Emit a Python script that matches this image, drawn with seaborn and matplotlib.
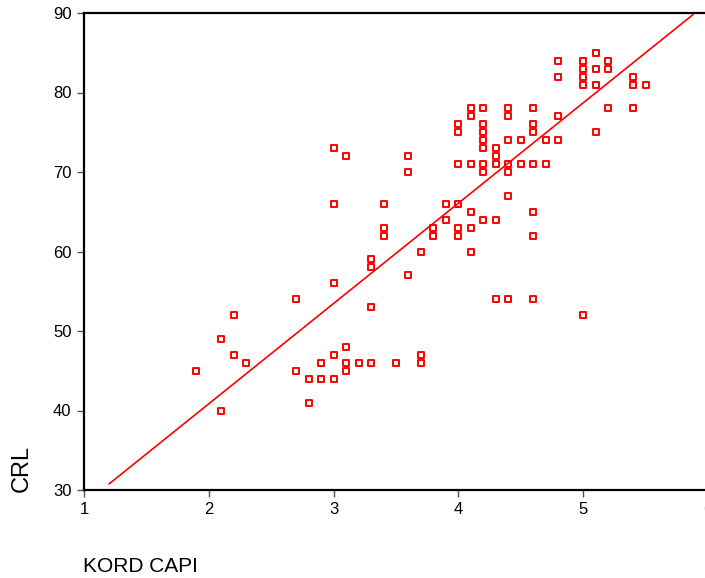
import numpy as np
import pandas as pd
import matplotlib
matplotlib.use("Agg")
import matplotlib.pyplot as plt
import seaborn as sns

# Valores (KORD CAPI x CRL)
kord_capi = [1.9, 2.1, 2.1, 2.2, 2.2, 2.3, 2.7, 2.7, 2.8, 2.8, 2.9, 2.9,
             3.0, 3.0, 3.0, 3.0, 3.0, 3.1, 3.1, 3.1, 3.1, 3.2,
             3.3, 3.3, 3.3, 3.3, 3.4, 3.4, 3.4, 3.5, 3.6, 3.6, 3.6,
             3.7, 3.7, 3.7, 3.8, 3.8, 3.9, 3.9,
             4.0, 4.0, 4.0, 4.0, 4.0, 4.0,
             4.1, 4.1, 4.1, 4.1, 4.1, 4.1,
             4.2, 4.2, 4.2, 4.2, 4.2, 4.2, 4.2, 4.2,
             4.3, 4.3, 4.3, 4.3, 4.3,
             4.4, 4.4, 4.4, 4.4, 4.4, 4.4, 4.4,
             4.5, 4.5,
             4.6, 4.6, 4.6, 4.6, 4.6, 4.6, 4.6,
             4.7, 4.7, 4.8, 4.8, 4.8, 4.8,
             5.0, 5.0, 5.0, 5.0, 5.0,
             5.1, 5.1, 5.1, 5.1, 5.2, 5.2, 5.2,
             5.4, 5.4, 5.4, 5.5]
crl = [45, 49, 40, 52, 47, 46, 54, 45, 44, 41, 46, 44,
       73, 66, 56, 47, 44, 72, 48, 46, 45, 46,
       59, 58, 53, 46, 66, 63, 62, 46, 72, 70, 57,
       60, 47, 46, 63, 62, 66, 64,
       76, 75, 71, 66, 63, 62,
       78, 77, 71, 65, 63, 60,
       78, 76, 75, 74, 73, 71, 70, 64,
       73, 72, 71, 64, 54,
       78, 77, 74, 71, 70, 67, 54,
       74, 71,
       78, 76, 75, 71, 65, 62, 54,
       74, 71, 84, 82, 77, 74,
       84, 83, 82, 81, 52,
       85, 83, 81, 75, 84, 83, 78,
       82, 81, 78, 81]

# reta de ajuste como aparece no gráfico original (pontas)
reta_x = [1.2, 5.88]
reta_y = [30.75, 89.8]

x_ticks = [1, 2, 3, 4, 5, 6]
y_ticks = [30, 40, 50, 60, 70, 80, 90]

df = pd.DataFrame({"KORD CAPI": kord_capi, "CRL": crl})
df_reta = pd.DataFrame({"x": reta_x, "y": reta_y})

sns.set_style("white")
plt.rcParams["font.family"] = ["Liberation Sans", "DejaVu Sans"]
plt.rcParams["text.color"] = "black"

fig = plt.figure(figsize=(7.05, 5.78), dpi=100)
ax = fig.add_axes([84 / 705, 88 / 578, 624 / 705, 477 / 578])

sns.scatterplot(data=df, x="KORD CAPI", y="CRL", marker="s", s=17,
                linewidth=1.4, ax=ax, legend=False)
pts = ax.collections[0]
pts.set_facecolor("white")
pts.set_edgecolor("#ff0000")

sns.lineplot(data=df_reta, x="x", y="y", color="#ff0000", lw=1.2, ax=ax)

ax.set_xlim(1, 6)
ax.set_ylim(30, 90)
ax.set_xticks(x_ticks)
ax.set_yticks(y_ticks)
ax.tick_params(axis="both", direction="out", length=5, width=1,
               color="#555555", labelcolor="black", labelsize=12, pad=4,
               left=True, bottom=True)
ax.set_xlabel("")
ax.set_ylabel("")

for lado in ["left", "bottom", "top"]:
    ax.spines[lado].set_visible(True)
    ax.spines[lado].set_color("black")
    ax.spines[lado].set_linewidth(1.6)
ax.spines["right"].set_visible(False)

fig.text(22 / 705, 1 - 492 / 578, "CRL", rotation=90, ha="center",
         va="bottom", fontsize=17)
fig.text(83 / 705, 1 - 566 / 578, "KORD CAPI", ha="left", va="center",
         fontsize=15)

fig.savefig("out.png", dpi=100)
